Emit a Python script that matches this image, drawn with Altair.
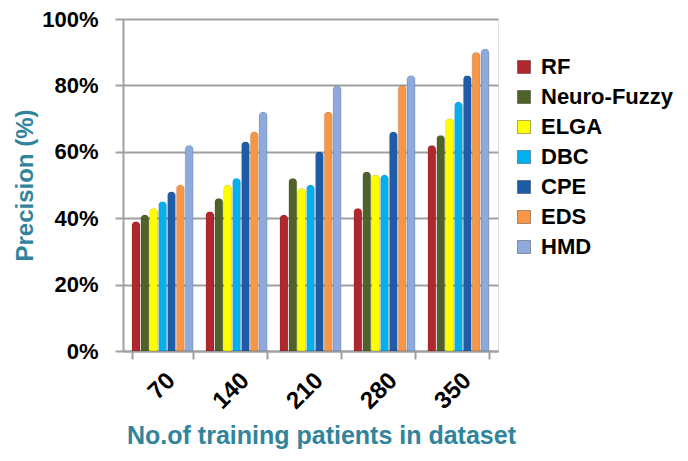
import altair as alt
import pandas as pd

groups = ["70", "140", "210", "280", "350"]
methods = ["RF", "Neuro-Fuzzy", "ELGA", "DBC", "CPE", "EDS", "HMD"]
colors = ["#B0282E", "#4F6228", "#FFFF00", "#00B0F0", "#1F5CA8", "#F79646", "#8EA9DB"]
values = {
    "RF":          [39, 42, 41, 43, 62],
    "Neuro-Fuzzy": [41, 46, 52, 54, 65],
    "ELGA":        [43, 50, 49, 53, 70],
    "DBC":         [45, 52, 50, 53, 75],
    "CPE":         [48, 63, 60, 66, 83],
    "EDS":         [50, 66, 72, 80, 90],
    "HMD":         [62, 72, 80, 83, 91],
}

rows = []
for m in methods:
    for g, v in zip(groups, values[m]):
        rows.append({"group": g, "method": m, "value": v / 100})
df = pd.DataFrame(rows)

teal = "#31849B"

chart = alt.Chart(df).mark_bar(
    cornerRadiusTopLeft=4, cornerRadiusTopRight=4, stroke="#00000033", strokeWidth=0.5
).encode(
    x=alt.X("group:N", sort=groups,
            scale=alt.Scale(paddingInner=0.17, paddingOuter=0.12),
            axis=alt.Axis(title="No.of training patients in dataset", labelAngle=-45,
                          labelFont="Liberation Sans", labelFontSize=24, labelFontWeight="bold",
                          labelColor="black", labelPadding=9,
                          titleFont="Liberation Sans", titleFontSize=25, titleX=198,
                          titleFontWeight="bold", titleColor=teal, titlePadding=10,
                          domainColor="#A0A0A0", domainWidth=2, tickColor="#A0A0A0",
                          tickWidth=2, tickSize=8, tickBand="extent")),
    xOffset=alt.XOffset("method:N", sort=methods, scale=alt.Scale(paddingInner=0.08)),
    y=alt.Y("value:Q", scale=alt.Scale(domain=[0, 1]),
            axis=alt.Axis(title="Precision (%)", format="%", values=[0, 0.2, 0.4, 0.6, 0.8, 1.0],
                          labelFont="Liberation Sans", labelFontSize=22, labelFontWeight="bold",
                          labelColor="black", labelPadding=17,
                          titleFont="Liberation Sans", titleFontSize=24, titleFontWeight="bold",
                          titleColor=teal, titlePadding=4,
                          gridColor="#A0A0A0", gridWidth=2, domainColor="#A0A0A0",
                          domainWidth=2, tickColor="#A0A0A0", tickWidth=2, tickSize=8)),
    color=alt.Color("method:N", sort=methods,
                    scale=alt.Scale(domain=methods, range=colors),
                    legend=alt.Legend(title=None, orient="none", legendX=390, legendY=37,
                                      symbolType="square", symbolSize=170,
                                      symbolStrokeColor="#00000055", symbolStrokeWidth=1,
                                      labelFont="Liberation Sans", labelFontSize=22,
                                      labelFontWeight="bold", labelColor="black",
                                      rowPadding=8, labelOffset=6)),
).properties(
    width=375, height=332,
    autosize=alt.AutoSizeParams(type="none"),
    padding={"left": 115, "top": 11, "right": 182, "bottom": 102},
).configure_view(stroke=None).configure(background="white")

chart.save("out.html", embed_options={"renderer": "svg", "actions": False})
